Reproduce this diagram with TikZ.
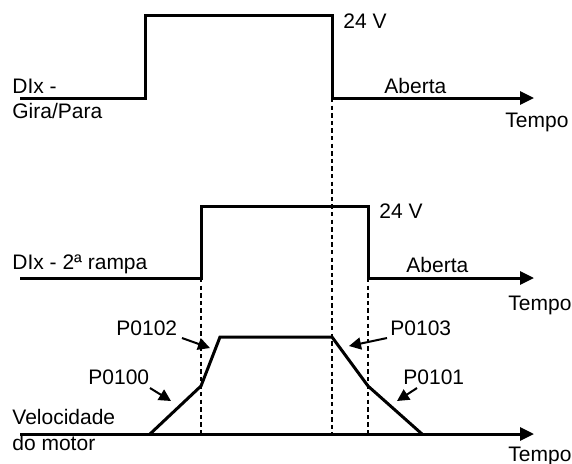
\documentclass[tikz,border=0pt]{standalone}
\usepackage{fontspec}
\setmainfont{Liberation Sans}
\usetikzlibrary{positioning,arrows.meta}

\begin{document}
\begin{tikzpicture}[x=0.5pt,y=-0.5pt,font=\fontsize{10.5}{12.5}\selectfont,
  sig/.style={line width=1.5pt,line join=miter},
  axis/.style={sig,-{Triangle[length=7pt,width=6.5pt]}},
  guide/.style={line width=1.1pt,dash pattern=on 2.2pt off 1.6pt},
  lbl/.style={inner sep=0pt,anchor=base west},
  callout/.style={line width=1pt,-{Triangle[length=6pt,width=6pt]}}]
\useasboundingbox (0,0) rectangle (572,463);

% Gira/Para
\coordinate (g0) at (20,98);
\coordinate (gup) at (145,15);
\coordinate (gdn) at (332,98);
\coordinate (gend) at (534,98);
\draw[axis] (g0) -| (gup) -| (gdn) -- (gend);
\node[lbl] (g24) at (343,28) {24 V};
\node[lbl] (gab) at (384,93) {Aberta};
\node[lbl] (gt) at (505,127) {Tempo};
\node[lbl] (gn1) at (12,93) {DIx -};
\node[lbl] (gn2) at (12,118) {Gira/Para};

% 2a rampa
\coordinate (r0) at (20,278);
\coordinate (rup) at (201,206);
\coordinate (rdn) at (368,278);
\coordinate (rend) at (534,278);
\draw[axis] (r0) -| (rup) -| (rdn) -- (rend);
\node[lbl] (r24) at (379,218) {24 V};
\node[lbl] (rab) at (406,272) {Aberta};
\node[lbl] (rt) at (508,310) {Tempo};
\node[lbl] (rn) at (12,269) {DIx - 2ª rampa};

% velocidade
\coordinate (v0) at (20,434);
\coordinate (vend) at (534,434);
\coordinate (s1) at (150,434);
\coordinate (s2) at (201,386);
\coordinate (s3) at (220,337);
\coordinate (s4) at (332,337);
\coordinate (s5) at (368,386);
\coordinate (s6) at (422,434);
\draw[axis] (v0) -- (vend);
\draw[sig] (s1) -- (s2) -- (s3) -- (s4) -- (s5) -- (s6);
\node[lbl] (vn1) at (12,424) {Velocidade};
\node[lbl] (vn2) at (12,450) {do motor};
\node[lbl] (vt) at (508,461) {Tempo};

% guias
\draw[guide] (gdn) -- (gdn |- v0);
\draw[guide] (rup |- r0) -- (rup |- v0);
\draw[guide] (rdn) -- (rdn |- v0);

% rampas
\node[lbl] (p102) at (116,335) {P0102};
\node[lbl] (p100) at (88,384) {P0100};
\node[lbl] (p103) at (390,335) {P0103};
\node[lbl] (p101) at (403,384) {P0101};
\coordinate (c102a) at (182,338); \coordinate (c102b) at (210,348);
\coordinate (c100a) at (150,388); \coordinate (c100b) at (171,401);
\coordinate (c103a) at (387,338); \coordinate (c103b) at (349,346);
\coordinate (c101a) at (417,388); \coordinate (c101b) at (397,401);
\draw[callout] (c102a) -- (c102b);
\draw[callout] (c100a) -- (c100b);
\draw[callout] (c103a) -- (c103b);
\draw[callout] (c101a) -- (c101b);
\end{tikzpicture}
\end{document}
